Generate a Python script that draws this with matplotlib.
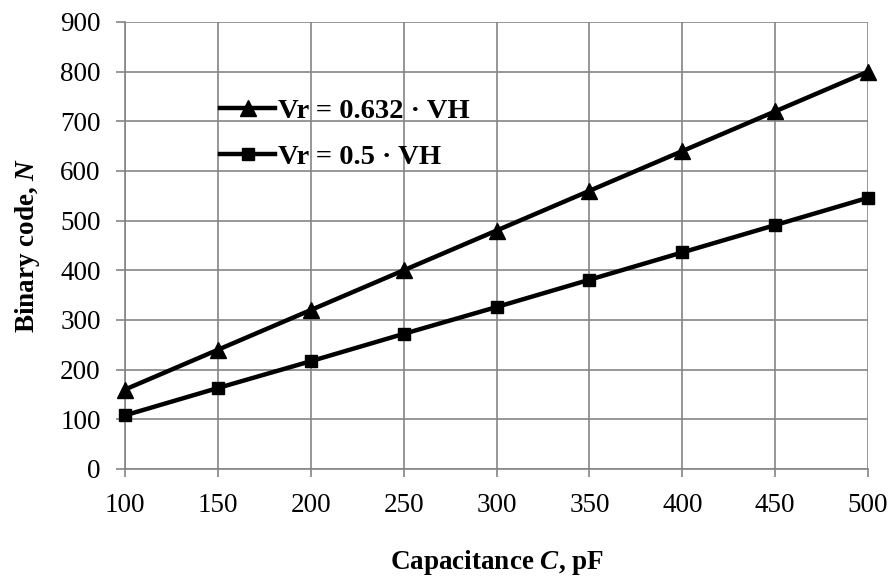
import matplotlib
matplotlib.use('Agg')
import matplotlib.pyplot as plt

capacitance = [100, 150, 200, 250, 300, 350, 400, 450, 500]
code_0632 = [160, 240, 320, 400, 480, 560, 640, 720, 800]
code_05 = [108, 163, 217, 272, 326, 381, 436, 491, 546]

x_ticks = [100, 150, 200, 250, 300, 350, 400, 450, 500]
y_ticks = [0, 100, 200, 300, 400, 500, 600, 700, 800, 900]

plt.rcParams['font.family'] = ['Liberation Serif', 'DejaVu Serif']
plt.rcParams['mathtext.fontset'] = 'custom'
plt.rcParams['mathtext.rm'] = 'Liberation Serif:bold'
plt.rcParams['mathtext.it'] = 'Liberation Serif:italic:bold'

GRID = '#858585'

fig = plt.figure(figsize=(8.89, 5.78), dpi=100)
ax = fig.add_axes([0.1406, 0.1886, 0.8358, 0.7734])

ax.plot(capacitance, code_0632, color='black', linewidth=3.2, marker='^',
        markersize=11, label='Vr = 0.632 · VH', clip_on=False, zorder=3)
ax.plot(capacitance, code_05, color='black', linewidth=3.2, marker='s',
        markersize=8.5, label='Vr = 0.5 · VH', clip_on=False, zorder=3)

ax.set_xlim(100, 500)
ax.set_ylim(0, 900)
ax.set_xticks(x_ticks)
ax.set_yticks(y_ticks)
ax.grid(True, color=GRID, linewidth=1.2)
ax.set_axisbelow(True)

for s in ['top', 'right']:
    ax.spines[s].set_visible(False)
for s in ['left', 'bottom']:
    ax.spines[s].set_color(GRID)
    ax.spines[s].set_linewidth(1.2)

ax.tick_params(axis='x', direction='out', length=6, width=1.2, color=GRID,
               labelsize=19.5, pad=11)
ax.tick_params(axis='y', direction='out', length=6.5, width=1.2, color=GRID,
               labelsize=19.5, pad=11)

ax.set_xlabel(r'Capacitance $\mathit{C}$, pF', fontsize=19.5, fontweight='bold',
              labelpad=22)
ax.set_ylabel(r'Binary code, $\mathit{N}$', fontsize=19.5, fontweight='bold',
              labelpad=13)

leg = ax.legend(loc='upper left', bbox_to_anchor=(0.128, 0.830), frameon=False,
                prop={'size': 20.5, 'weight': 'bold'}, handlelength=1.93,
                handletextpad=0.1, labelspacing=0.7, borderpad=0,
                borderaxespad=0)

fig.savefig('out.png', dpi=100)
